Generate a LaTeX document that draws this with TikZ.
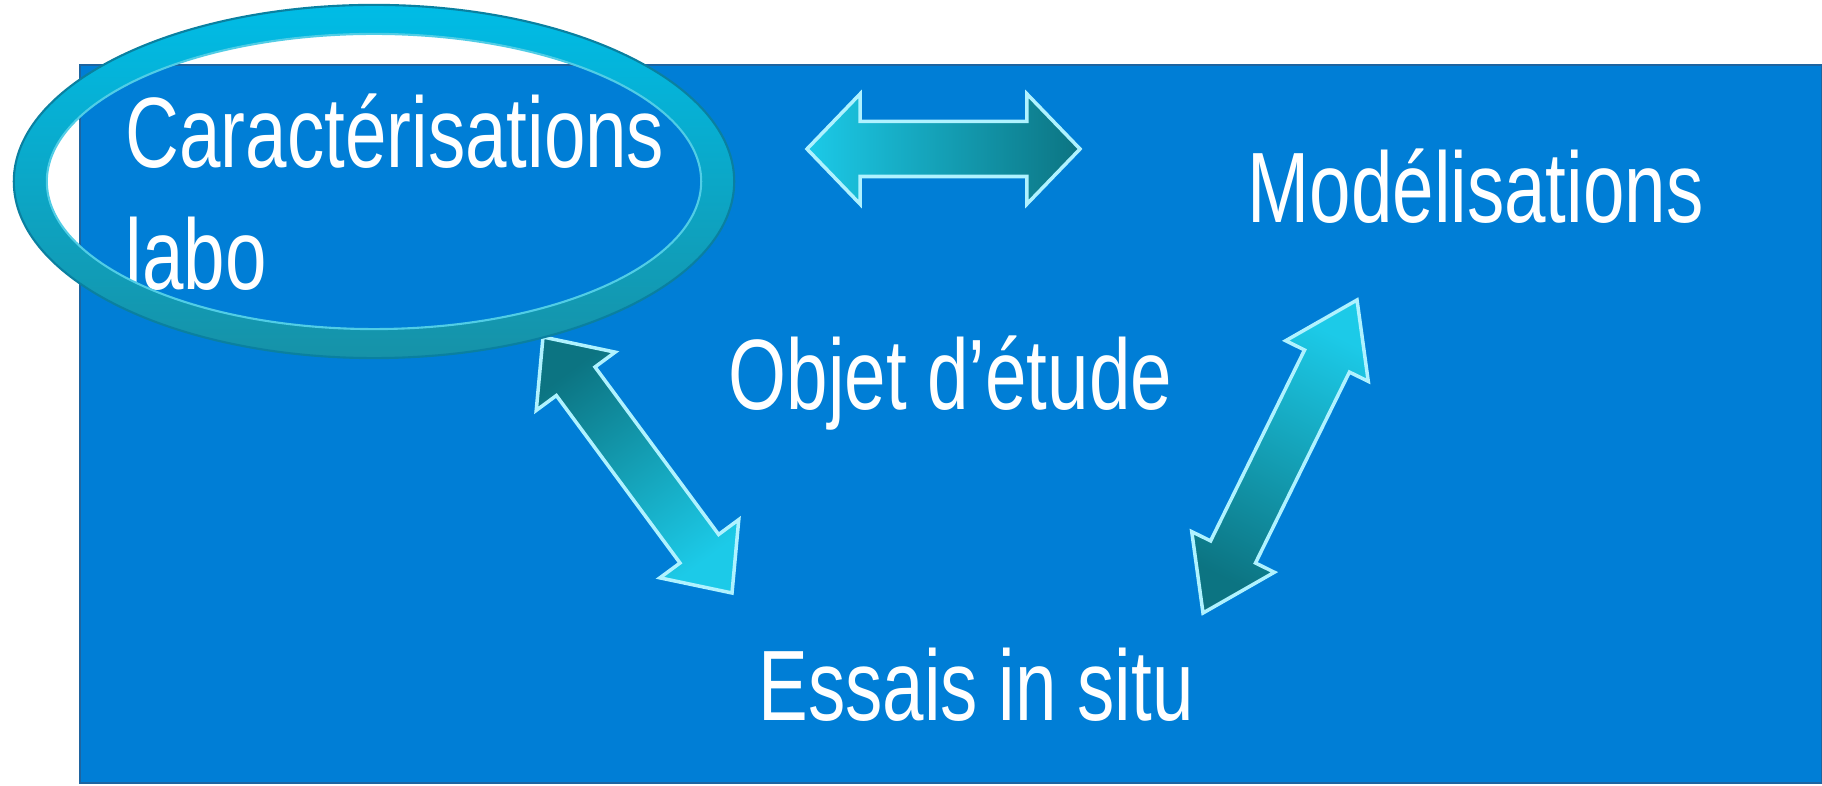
\documentclass[tikz,border=0pt]{standalone}
\usepackage{fontspec}
\setmainfont{Liberation Sans}
\usepackage{graphicx}
\usetikzlibrary{calc}
\definecolor{bgblue}{RGB}{0,126,214}
\definecolor{bgedge}{RGB}{30,100,160}
\definecolor{cyanb}{RGB}{28,202,232}
\definecolor{tealdk}{RGB}{12,116,130}
\definecolor{arrowedge}{RGB}{175,242,255}
\definecolor{ringtop}{RGB}{0,188,230}
\definecolor{ringbot}{RGB}{22,146,168}
\definecolor{ringout}{RGB}{10,128,160}
\definecolor{ringin}{RGB}{80,205,230}
\newcommand{\sq}[1]{\scalebox{0.745}[1]{#1}}
\newcommand{\blockarr}[6]{%
  \coordinate (#1h) at ($(#1)!#3!(#2)$);
  \coordinate (#2h) at ($(#2)!#3!(#1)$);
  \path[#6] (#1) -- ($(#1h)!#4!90:(#2)$) -- ($(#1h)!#5!90:(#2)$)
    -- ($(#2h)!#5!90:(#2)$) -- ($(#2h)!#4!90:(#2)$) -- (#2)
    -- ($(#2h)!#4!-90:(#2)$) -- ($(#2h)!#5!-90:(#2)$)
    -- ($(#1h)!#5!-90:(#2)$) -- ($(#1h)!#4!-90:(#2)$) -- cycle;}
\begin{document}
\begin{tikzpicture}[x=0.01cm,y=-0.01cm,
  lab/.style={anchor=base west, inner sep=0pt, text=white,
    font=\fontsize{28.45}{34}\selectfont},
  arrowbox/.style={draw=arrowedge, line width=1pt, line join=miter}]
\useasboundingbox (0,0) rectangle (1822,786);
\fill[white] (0,0) rectangle (1822,786);
\path[fill=bgblue, draw=bgedge, line width=0.6pt] (80,65) rectangle (1822,783);
% labels
\node[lab] (carac) at (125,168) {\sq{Caractérisations}};
\node[lab] (labo) at (125,290) {\sq{labo}};
\node[lab] (model) at (1247,223) {\sq{Modélisations}};
\node[lab] (objet) at (728,410) {\sq{Objet d’étude}};
\node[lab] (essais) at (758,720) {\sq{Essais in situ}};
% arrows
\coordinate (hA) at (807,149); \coordinate (hB) at (1080,149);
\coordinate (lA) at (543,337); \coordinate (lB) at (732,593);
\coordinate (rA) at (1357,300); \coordinate (rB) at (1203,613);
\blockarr{hA}{hB}{0.53cm}{0.55cm}{0.275cm}{arrowbox, left color=cyanb, right color=tealdk}
\blockarr{lA}{lB}{0.55cm}{0.49cm}{0.24cm}{arrowbox, top color=cyanb, bottom color=tealdk, shading angle=216.4}
\blockarr{rA}{rB}{0.68cm}{0.46cm}{0.25cm}{arrowbox, top color=cyanb, bottom color=tealdk, shading angle=333.8}
% ring
\coordinate (ringc) at (374,181.5);
\path[top color=ringtop, bottom color=ringbot, even odd rule]
  (ringc) ellipse [x radius=3.6cm, y radius=1.765cm]
  (ringc) ellipse [x radius=3.27cm, y radius=1.475cm];
\draw[ringout, line width=0.6pt] (ringc) ellipse [x radius=3.6cm, y radius=1.765cm];
\draw[ringin, line width=0.6pt] (ringc) ellipse [x radius=3.27cm, y radius=1.475cm];
\end{tikzpicture}
\end{document}
